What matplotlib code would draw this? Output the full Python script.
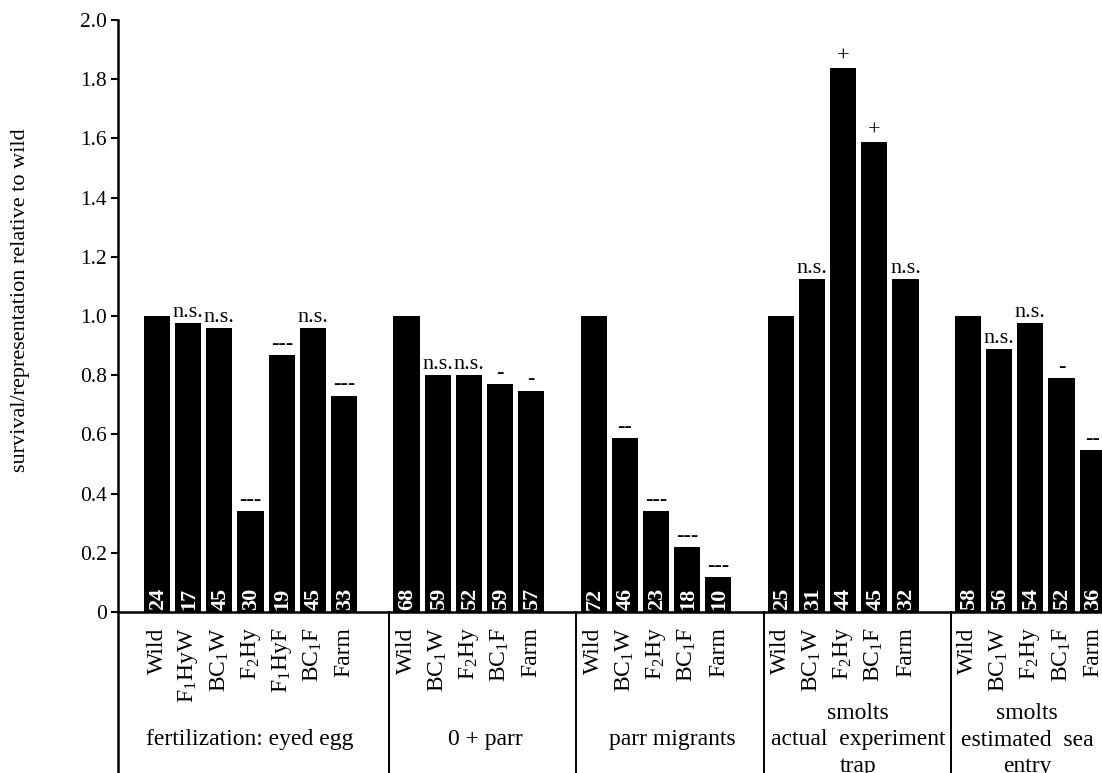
import matplotlib
matplotlib.use("Agg")
import matplotlib.pyplot as plt
import numpy as np

plt.rcParams['font.family'] = ['Liberation Serif', 'DejaVu Serif']
plt.rcParams['mathtext.fontset'] = 'custom'
plt.rcParams['mathtext.rm'] = 'Liberation Serif'
plt.rcParams['mathtext.it'] = 'Liberation Serif'
plt.rcParams['mathtext.default'] = 'regular'

# ---- data ----
group_names = ["fertilization: eyed egg", "0 + parr", "parr migrants",
               "smolts\nactual  experiment\ntrap", "smolts\nestimated  sea\nentry"]
cats_g1 = ["Wild", "F$_1$HyW", "BC$_1$W", "F$_2$Hy", "F$_1$HyF", "BC$_1$F", "Farm"]
cats_g2 = ["Wild", "BC$_1$W", "F$_2$Hy", "BC$_1$F", "Farm"]
cats_g3 = ["Wild", "BC$_1$W", "F$_2$Hy", "BC$_1$F", "Farm"]
cats_g4 = ["Wild", "BC$_1$W", "F$_2$Hy", "BC$_1$F", "Farm"]
cats_g5 = ["Wild", "BC$_1$W", "F$_2$Hy", "BC$_1$F", "Farm"]

vals_g1 = [1.0, 0.977, 0.96, 0.341, 0.869, 0.96, 0.731]
vals_g2 = [1.0, 0.80, 0.80, 0.77, 0.748]
vals_g3 = [1.0, 0.588, 0.341, 0.22, 0.118]
vals_g4 = [1.0, 1.125, 1.838, 1.588, 1.125]
vals_g5 = [1.0, 0.887, 0.977, 0.79, 0.548]

n_g1 = ["24", "17", "45", "30", "19", "45", "33"]
n_g2 = ["68", "59", "52", "59", "57"]
n_g3 = ["72", "46", "23", "18", "10"]
n_g4 = ["25", "31", "44", "45", "32"]
n_g5 = ["58", "56", "54", "52", "36"]

sig_g1 = ["", "n.s.", "n.s.", "---", "---", "n.s.", "---"]
sig_g2 = ["", "n.s.", "n.s.", "-", "-"]
sig_g3 = ["", "--", "---", "---", "---"]
sig_g4 = ["", "n.s.", "+", "+", "n.s."]
sig_g5 = ["", "n.s.", "n.s.", "-", "--"]

yticks = [0, 0.2, 0.4, 0.6, 0.8, 1.0, 1.2, 1.4, 1.6, 1.8, 2.0]
ytick_labels = ["0", "0.2", "0.4", "0.6", "0.8", "1.0", "1.2", "1.4", "1.6", "1.8", "2.0"]

groups = [(cats_g1, vals_g1, n_g1, sig_g1), (cats_g2, vals_g2, n_g2, sig_g2),
          (cats_g3, vals_g3, n_g3, sig_g3), (cats_g4, vals_g4, n_g4, sig_g4),
          (cats_g5, vals_g5, n_g5, sig_g5)]

# ---- layout ----
W, H = 1102, 773
fig = plt.figure(figsize=(W / 100, H / 100), dpi=100)
ax = fig.add_axes([118 / W, (H - 612) / H, 1 - 118 / W, 592 / H])

gap = 1
xs_all, labels_all = [], []
group_starts = []
pos = 0
for cats, vals, ns, sigs in groups:
    xs = np.arange(pos, pos + len(cats))
    group_starts.append(pos)
    ax.bar(xs, vals, width=0.84, color='black', edgecolor='none', zorder=2)
    for x, v, n, s in zip(xs, vals, ns, sigs):
        ax.text(x + 0.03, 0.006, n, rotation=90, ha='center', va='bottom', color='white',
                fontsize=16, fontweight='bold', zorder=3)
        if s:
            ax.text(x, v + 0.004, s, ha='center', va='bottom', fontsize=16, color='black')
    xs_all.extend(xs)
    labels_all.extend(cats)
    pos += len(cats) + gap

xmin, xmax = -1.25, 30.3
ax.set_xlim(xmin, xmax)
ax.set_ylim(0, 2.0)
ax.set_yticks(yticks)
ax.set_yticklabels(ytick_labels, fontsize=15.5)
ax.tick_params(axis='y', direction='out', length=5, width=1.5, pad=3)
ax.set_xticks(xs_all)
ax.set_xticklabels(labels_all, rotation=90, fontsize=17, va='top', ha='center')
ax.tick_params(axis='x', length=0, pad=11)

for sp in ['top', 'right']:
    ax.spines[sp].set_visible(False)
ax.spines['left'].set_linewidth(1.8)
ax.spines['bottom'].set_linewidth(1.8)

fig.text(21 / W, (H - 300) / H, "survival/representation relative to wild", fontsize=16,
         rotation=90, ha='center', va='center')

tr = ax.get_xaxis_transform()
ybot = -(H - 612) / 592
ax.plot([xmin, xmin], [ybot, 0], color='black', lw=1.8, transform=tr, clip_on=False)
for start in group_starts[1:]:
    ax.plot([start - 0.55, start - 0.55], [ybot, 0], color='black', lw=1.4,
            transform=tr, clip_on=False)

centers_px = [250, 485, 672, 858, 1027]
for name, cpx in zip(group_names, centers_px):
    xd = xmin + (cpx - 118) / (W - 118) * (xmax - xmin)
    ax.text(xd, -(740 - 612) / 592, name, ha='center', va='center', fontsize=17,
            transform=tr, clip_on=False, linespacing=1.33)

fig.savefig("out.png", dpi=100)
